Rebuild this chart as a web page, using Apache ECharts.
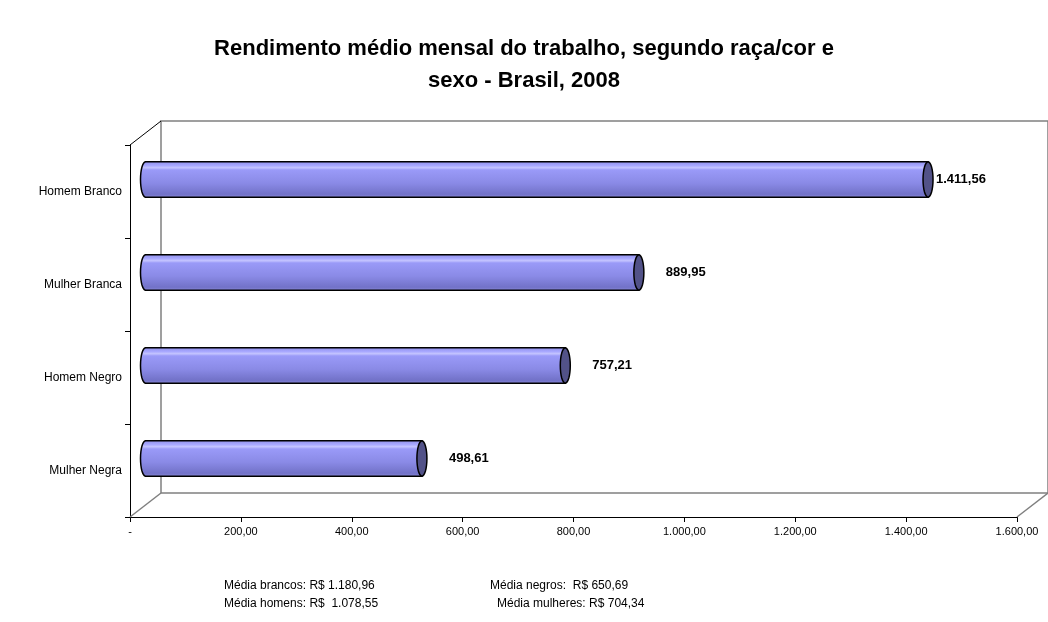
<!DOCTYPE html>
<html>
<head>
<meta charset="utf-8">
<script src="https://cdn.jsdelivr.net/npm/echarts@6/dist/echarts.min.js"></script>
<style>
  html, body { margin: 0; padding: 0; background: #fff; }
  #chart { width: 1048px; height: 622px; }
</style>
</head>
<body>
<div id="chart"></div>
<script>
const categories = ['Homem Branco', 'Mulher Branca', 'Homem Negro', 'Mulher Negra'];
const rendimento = [1411.56, 889.95, 757.21, 498.61];
const xMin = 0;
const xMax = 1600;
const xStep = 200;
const notas = [
  'Média brancos: R$ 1.180,96',
  'Média negros:  R$ 650,69',
  'Média homens: R$  1.078,55',
  'Média mulheres: R$ 704,34'
];

// formato brasileiro 1.234,56
function fmtBR(v) {
  const parts = v.toFixed(2).split('.');
  parts[0] = parts[0].replace(/\B(?=(\d{3})+(?!\d))/g, '.');
  return parts.join(',');
}

const W = 1048, H = 622;
// front plane, depth offset for 3D look
const front = { left: 130, top: 145, right: 31, bottom: 105 };
const dx = 31, dy = 24;
const mid = { left: front.left + dx / 2, top: front.top - dy / 2, right: front.right - dx / 2, bottom: front.bottom + dy / 2 };
const back = { left: front.left + dx, top: front.top - dy, right: front.right - dx, bottom: front.bottom + dy };

const font = 'Liberation Sans, Arial, sans-serif';

function arcPts(cx, cy, rx, ry, a0, a1, n) {
  const pts = [];
  for (let k = 0; k <= n; k++) {
    const a = (a0 + (a1 - a0) * k / n) * Math.PI / 180;
    pts.push([cx + rx * Math.cos(a), cy - ry * Math.sin(a)]);
  }
  return pts;
}

function renderCylinder(params, api) {
  const i = api.value(1);
  const v = api.value(0);
  const p0 = api.coord([0, i]);
  const p1 = api.coord([v, i]);
  const band = api.size([0, 1])[1];
  const ry = band * 0.19;
  const rx = 5;
  const cy = p0[1];
  const x0 = p0[0], x1 = p1[0];
  const body = [[x1, cy - ry]].concat(arcPts(x0, cy, rx, ry, 90, 270, 16)).concat([[x1, cy + ry]]);
  const cap = arcPts(x1, cy, rx, ry, 0, 360, 32);
  const backRight = W - back.right;
  const lx = Math.min(x1 + rx + 22, backRight - 112);
  return {
    type: 'group',
    children: [
      {
        type: 'polygon',
        shape: { points: body },
        style: {
          fill: new echarts.graphic.LinearGradient(0, 0, 0, 1, [
            { offset: 0, color: '#8c8ce6' },
            { offset: 0.12, color: '#a8a8ff' },
            { offset: 0.18, color: '#c4c4ff' },
            { offset: 0.24, color: '#9a9af8' },
            { offset: 0.6, color: '#8a8ae6' },
            { offset: 0.9, color: '#7272c8' },
            { offset: 1, color: '#8a8ad8' }
          ]),
          stroke: '#000',
          lineWidth: 1.5
        }
      },
      {
        type: 'polygon',
        shape: { points: cap },
        style: { fill: '#525288', stroke: '#000', lineWidth: 1.5 }
      },
      {
        type: 'text',
        style: {
          text: fmtBR(v),
          x: lx,
          y: cy,
          verticalAlign: 'middle',
          align: 'left',
          fill: '#000',
          font: 'bold 13px ' + font
        }
      }
    ]
  };
}

const chart = echarts.init(document.getElementById('chart'), null, { renderer: 'canvas' });

const fL = front.left, fT = front.top, fR = W - front.right, fB = H - front.bottom;
const bL = back.left, bT = back.top, bR = W - back.right, bB = H - back.bottom;

const option = {
  backgroundColor: '#fff',
  animation: false,
  title: {
    text: 'Rendimento médio mensal do trabalho, segundo raça/cor e\nsexo - Brasil, 2008',
    left: 'center',
    top: 28,
    textStyle: { fontFamily: font, fontSize: 22, fontWeight: 'bold', color: '#000', lineHeight: 32 }
  },
  grid: [
    Object.assign({ containLabel: false }, front),
    Object.assign({ containLabel: false }, mid),
    Object.assign({ containLabel: false, show: true, borderColor: '#808080', borderWidth: 1.5, backgroundColor: 'transparent' }, back)
  ],
  xAxis: [
    {
      gridIndex: 0, type: 'value', min: xMin, max: xMax, interval: xStep,
      axisLine: { show: true, lineStyle: { color: '#000', width: 1 } },
      axisTick: { show: true, length: 5, lineStyle: { color: '#000' } },
      splitLine: { show: false },
      axisLabel: {
        margin: 9, color: '#000', fontFamily: font, fontSize: 11,
        formatter: v => (v === 0 ? '-' : fmtBR(v))
      }
    },
    { gridIndex: 1, type: 'value', min: xMin, max: xMax, show: false, splitLine: { show: false } },
    { gridIndex: 2, type: 'value', min: xMin, max: xMax, show: false, splitLine: { show: false } }
  ],
  yAxis: [
    {
      gridIndex: 0, type: 'category', data: categories, inverse: true,
      axisLine: { show: true, lineStyle: { color: '#000', width: 1 } },
      axisTick: { show: true, length: 5, alignWithLabel: false, lineStyle: { color: '#000' } },
      axisLabel: { margin: 8, color: '#000', fontFamily: font, fontSize: 12 }
    },
    { gridIndex: 1, type: 'category', data: categories, inverse: true, show: false },
    { gridIndex: 2, type: 'category', data: categories, inverse: true, show: false }
  ],
  series: [
    {
      type: 'custom',
      xAxisIndex: 1,
      yAxisIndex: 1,
      renderItem: renderCylinder,
      encode: { x: 0, y: 1 },
      data: rendimento.map((v, i) => [v, i]),
      z: 5
    }
  ],
  graphic: [
    { type: 'line', shape: { x1: fL, y1: fB, x2: bL, y2: bB }, style: { stroke: '#808080', lineWidth: 1.5 }, z: 1 },
    { type: 'line', shape: { x1: fR, y1: fB, x2: bR, y2: bB }, style: { stroke: '#808080', lineWidth: 1.5 }, z: 1 },
    { type: 'line', shape: { x1: fL, y1: fT, x2: bL, y2: bT }, style: { stroke: '#000', lineWidth: 1 }, z: 1 },
    { type: 'text', left: 224, top: 580, style: { text: notas[0], font: '12px ' + font, fill: '#000' } },
    { type: 'text', left: 490, top: 580, style: { text: notas[1], font: '12px ' + font, fill: '#000' } },
    { type: 'text', left: 224, top: 598, style: { text: notas[2], font: '12px ' + font, fill: '#000' } },
    { type: 'text', left: 497, top: 598, style: { text: notas[3], font: '12px ' + font, fill: '#000' } }
  ]
};

chart.setOption(option);
</script>
</body>
</html>
